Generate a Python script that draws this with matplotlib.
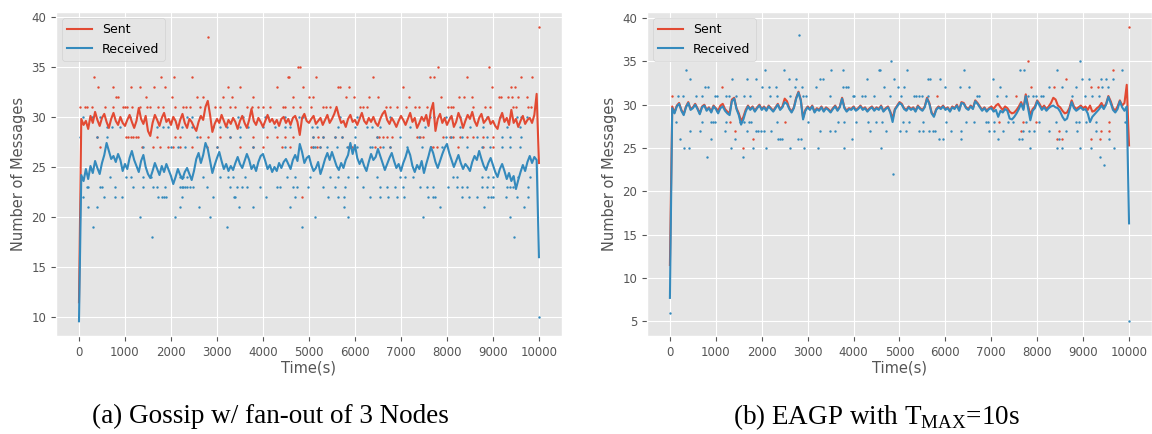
import numpy as np
import matplotlib
matplotlib.use('Agg')
import matplotlib.pyplot as plt

plt.style.use('ggplot')
plt.rcParams['mathtext.fontset'] = 'custom'
plt.rcParams['mathtext.rm'] = 'Liberation Serif'

RED = '#E24A33'
BLUE = '#348ABD'

# moving average sampled every 50 s, 0 .. 10000 s
step = 50
time = np.arange(0, 10001, step)

# (a) gossip, fan-out 3
gossip_sent = [
    11.5, 29.8, 29.2, 29.6, 28.8, 30.1, 29.4, 30.5, 29.7, 29.1,
    29.9, 30.3, 29.5, 28.9, 29.8, 30.4, 29.6, 29.2, 30.0, 29.4,
    29.1, 29.7, 30.2, 29.5, 28.9, 29.6, 30.9, 29.8, 29.3, 30.1,
    28.6, 28.1, 29.4, 30.2, 29.7, 29.1, 29.9, 30.4, 29.5, 29.8,
    29.2, 30.0, 29.6, 28.8, 29.7, 30.3, 29.4, 28.9, 29.8, 29.5,
    29.0, 28.6, 29.5, 30.1, 29.7, 31.0, 31.6, 30.2, 28.5, 29.3,
    29.8, 29.4, 30.2, 29.6, 29.0, 29.7, 29.3, 29.9, 29.5, 28.8,
    29.6, 30.1, 29.4, 28.9, 29.7, 30.8, 29.6, 29.2, 29.9, 29.5,
    29.0, 29.6, 30.2, 29.5, 29.8, 29.3, 29.7, 29.1, 29.8, 30.0,
    29.4, 29.8, 29.2, 29.9, 30.1, 29.5, 28.2, 29.9, 30.3, 29.6,
    29.4, 29.8, 30.1, 29.3, 29.6, 29.9, 29.2, 29.7, 30.2, 29.4,
    29.8, 30.3, 31.0, 30.1, 29.4, 29.6, 29.0, 29.8, 30.2, 29.5,
    29.7, 29.2, 29.8, 30.4, 29.6, 29.3, 29.9, 29.5, 30.0, 29.4,
    29.1, 29.8, 30.3, 30.6, 29.7, 29.3, 29.9, 29.5, 29.0, 29.6,
    30.1, 29.7, 29.2, 29.8, 30.4, 29.5, 29.9, 28.9, 29.4, 30.0,
    29.6, 30.2, 29.1, 30.6, 31.4, 28.6, 29.8, 30.3, 29.4, 29.9,
    29.2, 29.7, 30.1, 29.0, 29.5, 30.4, 29.8, 28.9, 29.6, 30.2,
    29.8, 30.5, 29.6, 29.1, 29.9, 30.3, 29.4, 29.7, 30.0, 29.3,
    29.6, 29.1, 28.8, 29.8, 30.4, 29.5, 29.9, 29.2, 30.7, 29.4,
    29.8, 29.0, 29.6, 30.1, 29.3, 29.7, 29.9, 29.4, 30.2, 32.3,
    25.4]
gossip_recv = [
    9.6, 24.2, 23.6, 24.8, 23.8, 25.1, 24.4, 25.6, 24.9, 24.3,
    25.4, 26.2, 27.4, 26.6, 25.8, 26.1, 25.5, 26.3, 25.7, 24.6,
    25.3, 24.8, 25.9, 26.6, 25.7, 25.1, 24.5, 25.6, 26.2, 25.0,
    24.3, 23.9, 24.6, 25.4, 24.8, 24.2, 25.1, 24.5, 25.3, 24.7,
    24.1, 23.3, 24.0, 24.8, 24.2, 23.8, 24.5, 24.9, 24.3, 23.7,
    24.6, 25.8, 26.4, 25.4, 26.2, 27.4, 26.8, 25.6, 24.4, 25.2,
    25.9, 26.5, 25.6, 24.8, 25.3, 24.6, 25.1, 24.7, 25.4, 26.0,
    25.3, 24.9, 25.6, 26.3, 25.7, 24.8, 25.2, 24.6, 25.5, 26.1,
    26.3, 25.6, 24.8, 25.2, 24.5, 25.0, 24.6, 25.4, 24.9, 25.5,
    25.8, 25.3, 24.8, 25.7, 26.2, 25.6, 27.3, 26.5, 25.4, 25.9,
    26.1, 25.2, 24.6, 24.9, 25.5, 24.3, 25.0, 25.8, 26.4, 25.7,
    26.5, 25.8, 25.1, 24.7, 25.4, 24.9, 25.7, 26.2, 27.4, 26.3,
    27.2, 25.9, 25.3, 25.8, 25.1, 24.6, 25.5, 26.3, 25.7, 26.0,
    26.8, 26.1, 25.4, 24.7, 25.3, 25.9, 26.4, 25.6, 24.9, 25.3,
    24.6, 25.4, 26.0, 26.8, 26.2, 25.1, 24.5, 25.2, 24.8, 25.6,
    24.4, 25.3, 26.1, 27.0, 26.4, 25.5, 24.9, 25.6, 26.3, 26.9,
    27.3, 26.4, 25.7, 25.0, 25.6, 26.2, 25.4, 24.8, 25.3, 25.0,
    24.6, 25.5, 26.1, 25.7, 26.6, 25.8, 25.1, 24.7, 25.4, 25.9,
    25.2, 24.5, 24.0, 24.8, 25.3, 24.6, 23.8, 24.4, 23.6, 24.1,
    22.8, 23.7, 24.5, 25.2, 24.6, 25.5, 26.1, 25.4, 26.0, 25.7,
    16.0]

# (b) EAGP, T_MAX = 10 s
eagp_sent = [
    11.5, 29.8, 29.1, 29.9, 30.2, 29.4, 28.9, 29.8, 30.3, 29.5,
    29.7, 30.1, 29.6, 29.0, 29.8, 30.0, 29.4, 29.7, 29.2, 29.9,
    29.6, 29.3, 29.9, 30.1, 29.5, 29.2, 29.0, 30.6, 30.8, 29.6,
    29.0, 28.1, 28.6, 29.4, 29.9, 29.5, 29.8, 29.3, 29.7, 30.0,
    29.5, 29.8, 29.4, 29.9, 29.6, 29.3, 29.7, 30.1, 29.5, 29.8,
    30.7, 30.4, 29.6, 29.2, 29.7, 30.8, 31.5, 30.6, 28.5, 29.4,
    29.8, 29.5, 29.9, 29.2, 29.6, 29.4, 29.8, 29.3, 29.7, 29.5,
    29.2, 29.6, 29.9, 29.4, 29.8, 30.8, 29.7, 29.3, 29.6, 29.5,
    29.8, 29.4, 29.6, 29.9, 29.5, 29.7, 29.3, 29.6, 29.8, 29.4,
    29.7, 29.5, 29.9, 29.3, 29.6, 29.8, 29.2, 28.4, 29.5, 29.9,
    30.3, 30.1, 29.6, 29.4, 29.8, 29.5, 29.7, 29.3, 29.9, 29.6,
    29.4, 29.8, 30.8, 30.2, 29.1, 28.7, 29.5, 29.8, 29.6, 29.9,
    29.5, 29.7, 29.3, 29.8, 29.6, 30.0, 29.4, 30.3, 30.2, 29.7,
    29.5, 29.9, 29.6, 30.5, 30.2, 29.8, 29.4, 29.7, 29.3, 29.6,
    29.8, 29.5, 29.9, 30.1, 29.7, 29.4, 29.8, 29.6, 29.2, 29.0,
    29.1, 29.4, 29.8, 30.3, 29.6, 31.2, 29.9, 28.8, 29.5, 29.8,
    30.5, 30.1, 29.6, 29.9, 29.5, 29.8, 30.2, 30.8, 30.6, 29.9,
    29.7, 29.3, 29.0, 29.1, 29.6, 30.5, 29.8, 29.5, 29.7, 29.9,
    29.6, 29.8, 29.4, 29.9, 29.2, 29.3, 29.6, 29.8, 30.2, 29.7,
    30.1, 31.0, 30.4, 29.6, 29.3, 29.8, 30.5, 29.9, 30.2, 32.3,
    25.3]
eagp_recv = [
    7.7, 29.6, 29.0, 29.8, 30.1, 29.3, 28.8, 29.7, 30.2, 29.4,
    29.6, 30.0, 29.5, 28.9, 29.7, 29.9, 29.3, 29.6, 29.1, 29.8,
    29.5, 29.0, 29.6, 29.8, 29.3, 29.0, 28.8, 30.4, 30.7, 29.5,
    28.8, 27.7, 28.3, 29.2, 29.8, 29.4, 29.7, 29.2, 29.6, 29.9,
    29.4, 29.7, 29.3, 29.8, 29.5, 29.2, 29.6, 30.0, 29.4, 29.7,
    30.3, 30.1, 29.5, 29.1, 29.6, 30.7, 31.4, 30.5, 28.3, 29.3,
    29.7, 29.4, 29.8, 29.1, 29.5, 29.3, 29.7, 29.2, 29.6, 29.4,
    29.1, 29.5, 29.8, 29.3, 29.7, 30.7, 29.6, 29.2, 29.5, 29.4,
    29.7, 29.3, 29.5, 29.8, 29.4, 29.6, 29.2, 29.5, 29.7, 29.3,
    29.6, 29.4, 29.8, 29.2, 29.5, 29.7, 29.1, 28.0, 29.4, 29.8,
    30.2, 30.0, 29.5, 29.3, 29.7, 29.4, 29.6, 29.2, 29.8, 29.5,
    29.3, 29.7, 30.7, 30.1, 29.0, 28.6, 29.4, 29.7, 29.5, 29.8,
    29.4, 29.6, 29.2, 29.7, 29.5, 29.9, 29.3, 30.2, 30.1, 29.6,
    29.4, 29.8, 29.5, 30.4, 30.1, 29.7, 29.3, 29.6, 29.2, 29.5,
    29.6, 29.2, 29.4, 28.6, 29.3, 29.1, 29.5, 29.3, 28.4, 28.3,
    28.6, 29.0, 29.5, 30.1, 29.4, 31.0, 29.6, 28.2, 29.3, 29.6,
    30.4, 29.9, 29.4, 29.7, 29.3, 29.6, 29.8, 29.9, 29.7, 29.6,
    29.2, 28.6, 28.2, 28.4, 29.3, 30.3, 29.6, 29.3, 29.5, 29.7,
    29.4, 29.5, 29.0, 28.0, 28.6, 28.9, 29.2, 29.5, 29.9, 29.5,
    30.0, 30.9, 30.2, 29.4, 29.1, 29.5, 30.4, 29.7, 29.3, 29.8,
    16.3]

# raw per-sample counts that stand out from the averaged lines
# {message count: [times in s]}
gossip_sent_dots = {
    39: [10000],
    38: [2810],
    35: [4770, 4800, 7810, 8920],
    34: [333, 1775, 2065, 2465, 4550, 4570, 5150, 6400, 7630, 7720, 8430,
         9620, 9850],
    33: [420, 740, 1130, 1330, 1640, 1860, 3250, 3500, 4300, 4860, 5640,
         5670, 5880, 7040, 8990, 9390, 9490],
    32: [800, 850, 1450, 2020, 2560, 2700, 3135, 3320, 3790, 4645, 5010,
         5080, 5800, 5980, 6310, 6510, 7180, 7870, 8260, 8380, 8540, 9140,
         9170, 9330, 9420, 9550, 9730],
    31: [20, 130, 180, 275, 565, 745, 950, 1000, 1035, 1145, 1325, 1470,
         1545, 1725, 1835, 2085, 2255, 2325, 2410, 2630, 2955, 3065, 3280,
         3390, 3645, 3755, 3900, 4005, 4150, 4440, 4480, 4660, 4800, 5040,
         5310, 5380, 5460, 6110, 6170, 6270, 6670, 6760, 6920, 7110, 7300,
         7400, 7560, 8030, 8080, 8140, 8570, 8830, 8930, 9440, 9500, 9770,
         9820],
    28: [385, 1020, 1070, 1125, 1180, 1240, 1290, 1690, 2085, 2195, 2630,
         2810, 3065, 3280, 3790, 4080, 4300, 4480, 4645, 5090, 5200, 5300,
         5565, 5710, 6470, 6530, 6620, 6690, 6800, 7340, 7410, 7470, 7920,
         8070, 8140, 8280, 8430, 8570, 8790, 9010],
    27: [455, 1360, 1615, 1760, 1940, 2050, 2195, 2450, 2775, 2995, 3500,
         3790, 4005, 4405, 4590, 5040, 5090, 5165, 5240, 5855, 5930, 6435,
         6545, 6760, 7645, 7700, 7775, 8245, 8790, 9010],
    22: [4840],
}
gossip_recv_dots = {
    30: [80, 275, 455, 1110, 2340, 2450, 2630, 3465, 3575, 4045, 4115, 4480,
         4790, 4860, 5670, 6035, 6760, 7630, 7720, 7990, 8070, 8280, 8860,
         9150, 9515, 9600, 9730],
    29: [600, 710, 890, 1690, 1835, 1940, 2125, 2235, 2450, 2920, 3065, 3210,
         3500, 3680, 4005, 4260, 4480, 4590, 5060, 5165, 5640, 6000, 6255,
         6365, 6545, 7195, 7520, 8280, 8500, 8790, 9300, 9590],
    28: [20, 400, 600, 2560, 3280, 3500, 5095, 5310, 5565, 5710, 6000, 6470,
         6980, 7400, 7990, 8080, 8320, 8645, 8875, 9190, 9370, 9600],
    27: [1400, 2010, 2150, 2295, 3000, 3790, 4480, 5095, 5130, 5240, 5385,
         5600, 5820, 5890, 6035, 6325, 6365, 6620, 6760, 7125, 7450, 7885,
         8430, 8755, 8935, 9190, 9370, 9585],
    24: [670, 1030, 1140, 1400, 1565, 2195, 2270, 2340, 2705, 3065, 3250,
         3355, 3610, 4515, 4695, 5020, 5455, 5640, 5855, 6035, 6470, 6980,
         7085, 7265, 8140, 8210, 8755, 8900, 9005, 9440, 9550, 9805],
    23: [165, 200, 455, 495, 785, 1180, 1400, 1615, 1690, 1870, 2195, 2235,
         2270, 2305, 2340, 2410, 2485, 2775, 3280, 3430, 3535, 3645, 3935,
         4300, 4370, 4660, 4730, 4985, 5310, 5565, 5785, 6180, 6545, 6690,
         6870, 7050, 7410, 7570, 7700, 8030, 8210, 8320, 8430, 8755, 8865,
         9005, 9300, 9370, 9440, 9770],
    22: [95, 545, 785, 940, 1710, 1800, 1850, 1890, 2245, 2920, 3370, 3390,
         4060, 4700, 5420, 5640, 5770, 6325, 6545, 6725, 6905, 7060, 7580,
         7690, 7740, 8320, 8485, 8645, 8885, 8950, 9005, 9280, 9515, 9770],
    21: [200, 385, 2195, 2610, 3485, 3790, 4590, 5770, 7850, 8810, 9675],
    20: [1325, 2085, 2850, 5140, 5855, 7470, 9370],
    19: [310, 3210, 4840],
    18: [1580, 9455],
    10: [10000],
}

eagp_sent_dots = {
    39: [10000],
    35: [7810],
    34: [9640],
    33: [8625],
    32: [1145, 7870, 8375, 9165, 9325],
    31: [37, 5810, 7535],
    28: [1300, 2500, 7160, 7680, 7970, 9565],
    27: [1410, 7645, 8480, 9385, 9565],
    26: [1810, 8430, 8550, 9180, 9370],
    25: [1595],
}
eagp_recv_dots = {
    38: [2810],
    35: [4805, 8930],
    34: [340, 2080, 2480, 3515, 3780, 4550, 4580, 5165, 6400, 7630, 7720,
         8440, 9855],
    33: [435, 1360, 1670, 1870, 2590, 2755, 3260, 3335, 4300, 4875, 5615,
         5670, 5890, 7030, 8985, 9130, 9385, 9495, 9640],
    32: [760, 835, 2015, 2150, 2320, 2730, 2885, 3190, 3770, 3840, 3875,
         4660, 4965, 5095, 5995, 6325, 6520, 7190, 8260, 8530, 8840, 9420,
         9550],
    31: [180, 290, 565, 690, 980, 1030, 1230, 1290, 1450, 1610, 1740, 2175,
         2340, 2610, 2900, 2970, 3480, 3985, 4020, 4190, 4240, 4455, 4800,
         5035, 5310, 5365, 5420, 5480, 5615, 6680, 6740, 7125, 7320, 7790,
         7900, 7970, 8080, 8135, 8765, 9035, 9200, 9350],
    28: [130, 690, 905, 940, 980, 1230, 1520, 1610, 1725, 1775, 2340, 3005,
         3660, 3800, 4060, 4310, 4480, 4620, 5070, 5200, 5505, 6015, 6450,
         6630, 6885, 6920, 7065, 7355, 7465, 7755, 8045, 8405, 8840, 8915,
         9060, 9275, 9910],
    27: [435, 650, 1195, 1670, 1865, 1920, 1990, 2050, 2210, 3275, 3480,
         3585, 4350, 4710, 5020, 5145, 5420, 5505, 5650, 5725, 5780, 6125,
         6340, 6955, 7065, 7245, 7680, 7825, 7935, 8260, 8625, 8875, 9275],
    26: [215, 885, 1410, 2355, 2405, 2440, 2790, 2860, 3970, 5870, 5940,
         6340, 7150, 7610, 7660, 8480, 9565],
    25: [305, 410, 1340, 1810, 2100, 2610, 2920, 3225, 3790, 4590, 7850,
         8430, 8550, 8930, 9180, 9675],
    24: [800, 1595, 9370],
    23: [9455],
    22: [4855],
    6: [0],
    5: [10000],
}


def flatten(dots):
    t = [x for v, ts in dots.items() for x in ts]
    y = [v for v, ts in dots.items() for x in ts]
    return t, y


def draw(ax, sent, recv, sent_dots, recv_dots):
    ax.scatter(*flatten(sent_dots), s=3, color=RED, linewidths=0, zorder=2)
    ax.scatter(*flatten(recv_dots), s=3, color=BLUE, linewidths=0, zorder=2)
    ax.plot(time, sent, color=RED, lw=1.5, label='Sent', zorder=3)
    ax.plot(time, recv, color=BLUE, lw=1.5, label='Received', zorder=3)
    ax.set_xticks(np.arange(0, 10001, 1000))
    ax.set_xlabel('Time(s)', fontsize=10.5, labelpad=1)
    ax.set_ylabel('Number of Messages', fontsize=10.5)
    ax.tick_params(labelsize=8.5)
    ax.legend(loc='upper left', fontsize=9)


fig = plt.figure(figsize=(11.52, 4.34), dpi=100)
ax1 = fig.add_axes([0.0486, 0.2258, 0.4392, 0.7465])
ax2 = fig.add_axes([0.5616, 0.2258, 0.4384, 0.7465])

draw(ax1, gossip_sent, gossip_recv, gossip_sent_dots, gossip_recv_dots)
draw(ax2, eagp_sent, eagp_recv, eagp_sent_dots, eagp_recv_dots)

fig.text(0.235, 0.04, '(a) Gossip w/ fan-out of 3 Nodes', ha='center',
         va='center', fontsize=19.5, family='Liberation Serif', color='black')
fig.text(0.761, 0.04, '(b) EAGP with T$_{\\mathrm{MAX}}$=10s', ha='center',
         va='center', fontsize=19.5, family='Liberation Serif', color='black')

fig.savefig('out.png', dpi=100, facecolor='white')
